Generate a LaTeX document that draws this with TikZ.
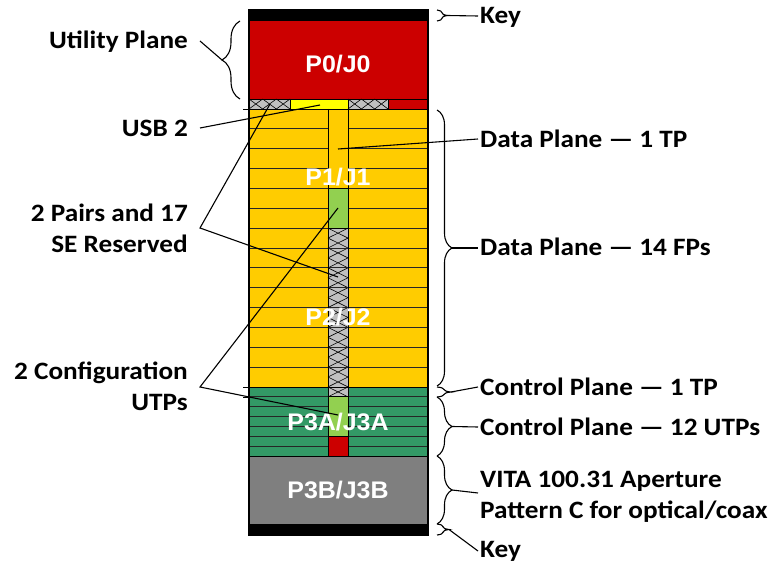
\documentclass[tikz,border=0pt]{standalone}
\usepackage{fontspec}
\setmainfont{Carlito}[FakeStretch=1.09]
\newfontfamily\blockfont{Liberation Sans}[FakeStretch=1.04]
\usetikzlibrary{decorations.pathreplacing}

\definecolor{pred}{HTML}{CC0000}
\definecolor{pyellow}{HTML}{FFCC00}
\definecolor{usbyellow}{HTML}{FFFF00}
\definecolor{lgreen}{HTML}{92D050}
\definecolor{dgreen}{HTML}{339966}
\definecolor{pgray}{HTML}{7F7F7F}
\definecolor{hgray}{HTML}{C0C0C0}

% crosses stacked down a column: x0, x1, y0, cell height, count
\newcommand{\hatchcol}[5]{%
  \foreach \k in {1,...,#5}{%
    \pgfmathsetmacro\ya{#3+(\k-1)*#4}%
    \pgfmathsetmacro\yb{#3+\k*#4}%
    \draw[hatchline] (#1,\ya) -- (#2,\yb) (#2,\ya) -- (#1,\yb);
  }}
% crosses side by side along a strip: x0, y0, y1, cell width, count
\newcommand{\hatchrow}[5]{%
  \foreach \k in {1,...,#5}{%
    \pgfmathsetmacro\xa{#1+(\k-1)*#4}%
    \pgfmathsetmacro\xb{#1+\k*#4}%
    \draw[hatchline] (\xa,#2) -- (\xb,#3) (\xb,#2) -- (\xa,#3);
  }}

\begin{document}
\begin{tikzpicture}[x=1pt,y=-1pt,
  blocklabel/.style={font=\blockfont\bfseries\fontsize{24}{24}\selectfont, text=white, inner sep=0pt, anchor=base},
  sidelabel/.style={font=\bfseries\fontsize{25}{31}\selectfont, inner sep=0pt},
  rowline/.style={line width=0.9pt, black!85},
  cell/.style={draw=black, line width=0.9pt},
  hatchline/.style={line width=0.6pt, black},
  bracestyle/.style={decorate, decoration={brace, amplitude=#1}, line width=1.1pt},
  leader/.style={line width=1.1pt}
]
\useasboundingbox (0,0) rectangle (774,564);

% ---------- connector body ----------
\fill[black] (249,10) rectangle (428,21);
\fill[pred] (249,21) rectangle (428,99);

% strip under P0: reserved / USB 2 / reserved / utility
\fill[hgray] (249,99) rectangle (290,109);
\fill[usbyellow] (290,99) rectangle (348,109);
\fill[hgray] (348,99) rectangle (388,109);
\fill[pred] (388,99) rectangle (428,109);
\hatchrow{249}{99}{109}{13.667}{3}
\hatchrow{348}{99}{109}{13.333}{3}
\draw[cell] (249,99) rectangle (428,109);
\draw[cell] (290,99) -- (290,109) (348,99) -- (348,109) (388,99) -- (388,109);

% data plane: 14 rows
\fill[pyellow] (249,109) rectangle (428,387);
\foreach \k [evaluate=\k as \yy using 109+19.857*\k] in {1,...,13}{
  \draw[rowline] (249,\yy) -- (328,\yy) (348,\yy) -- (428,\yy);
}
% centre column of the data plane
\fill[lgreen] (328,188.43) rectangle (348,228.14);
\fill[hgray] (328,228.14) rectangle (348,396.86);
\hatchcol{328}{348}{228.14}{9.924}{17}
\foreach \k [evaluate=\k as \yy using 109+19.857*\k] in {7,...,13}{
  \draw[rowline] (328,\yy) -- (348,\yy);
}

% control plane: 7 rows
\fill[dgreen] (249,387) rectangle (428,456);
\foreach \k [evaluate=\k as \yy using 387+9.857*\k] in {1,...,6}{
  \draw[rowline] (249,\yy) -- (328,\yy) (348,\yy) -- (428,\yy);
}
\fill[hgray] (328,387) rectangle (348,396.86);
\hatchcol{328}{348}{387}{9.86}{1}
\fill[lgreen] (328,396.86) rectangle (348,436.29);
\fill[pred] (328,436.29) rectangle (348,456);

% column outlines
\draw[cell] (328,109) -- (328,456) (348,109) -- (348,456);
\draw[cell] (328,188.43) -- (348,188.43) (328,228.14) -- (348,228.14);
\draw[cell] (328,396.86) -- (348,396.86) (328,436.29) -- (348,436.29);

% P3B and lower key
\fill[pgray] (249,456) rectangle (428,524);
\fill[black] (249,524) rectangle (428,535);

\draw[cell] (249,109) -- (428,109) (249,387) -- (428,387) (249,456) -- (428,456) (249,524) -- (428,524);
\draw[line width=1.2pt] (249,10) rectangle (428,535);
\draw[line width=0.9pt] (243,109) -- (249,109) (243,387) -- (249,387) (243,397) -- (249,397);

% block labels
\node[blocklabel] (p0) at (338,73) {P0/J0};
\node[blocklabel] (p1) at (338,186) {P1/J1};
\node[blocklabel] (p2) at (338,325) {P2/J2};
\node[blocklabel] (p3a) at (338,430) {P3A/J3A};
\node[blocklabel] (p3b) at (338,498) {P3B/J3B};

% points pointed at
\coordinate (usbpt) at (320,105);
\coordinate (rsvpt) at (270,104);
\coordinate (hatchpt) at (338,277);
\coordinate (cfgA) at (338,208);
\coordinate (cfgB) at (338,415);
\coordinate (tppt) at (338,149);

% ---------- left labels (base anchor = last line) ----------
\node[sidelabel, anchor=base east] (util) at (188,49) {Utility Plane};
\node[sidelabel, anchor=base east] (usb) at (188,137) {USB 2};
\node[sidelabel, anchor=base east, align=right] (pairs) at (188,253) {2 Pairs and 17\\SE Reserved};
\node[sidelabel, anchor=base east, align=right] (cfg) at (188,410) {2 Configuration\\UTPs};

\coordinate (jUtil) at (200,41);
\coordinate (tipUtil) at (222,60);
\coordinate (jUsb) at (200,128);
\coordinate (jPairs) at (200,228);
\coordinate (jCfg) at (200,387);

\draw[bracestyle=18pt] (240,99) -- (240,21);
\draw[leader] (jUtil) -- (tipUtil);
\draw[leader] (jUsb) -- (usbpt);
\draw[leader] (rsvpt) -- (jPairs) -- (hatchpt);
\draw[leader] (cfgA) -- (jCfg) -- (cfgB);

% ---------- right labels ----------
\node[sidelabel, anchor=base west] (keyT) at (480,24) {Key};
\node[sidelabel, anchor=base west] (dp1) at (480,148) {Data Plane — 1 TP};
\node[sidelabel, anchor=base west] (dp14) at (480,256) {Data Plane — 14 FPs};
\node[sidelabel, anchor=base west] (cp1) at (480,395) {Control Plane — 1 TP};
\node[sidelabel, anchor=base west] (cp12) at (480,435) {Control Plane — 12 UTPs};
\node[sidelabel, anchor=base west, align=left] (vita) at (480,518) {VITA 100.31 Aperture\\Pattern C for optical/coax};
\node[sidelabel, anchor=base west] (keyB) at (480,557) {Key};

\draw[bracestyle=10pt] (437,10) -- (437,21);
\draw[bracestyle=15pt] (437,110) -- (437,386);
\draw[bracestyle=14pt] (437,387) -- (437,397);
\draw[bracestyle=15pt] (437,397) -- (437,456);
\draw[bracestyle=15pt] (437,456) -- (437,524);
\draw[bracestyle=12pt] (437,524) -- (437,535);

\coordinate (tKeyT) at (447,15.5);
\coordinate (t14) at (452,248);
\coordinate (tCp1) at (451,392);
\coordinate (tCp12) at (452,426.5);
\coordinate (tVita) at (452,490);
\coordinate (tKeyB) at (449,529.5);

\draw[leader] (tKeyT) -- (478,16);
\draw[leader] (tppt) -- (478,139);
\draw[leader] (t14) -- (478,248);
\draw[leader] (tCp1) -- (478,387);
\draw[leader] (tCp12) -- (478,427);
\draw[leader] (tVita) -- (478,493);
\draw[leader] (tKeyB) -- (478,551);
\end{tikzpicture}
\end{document}
